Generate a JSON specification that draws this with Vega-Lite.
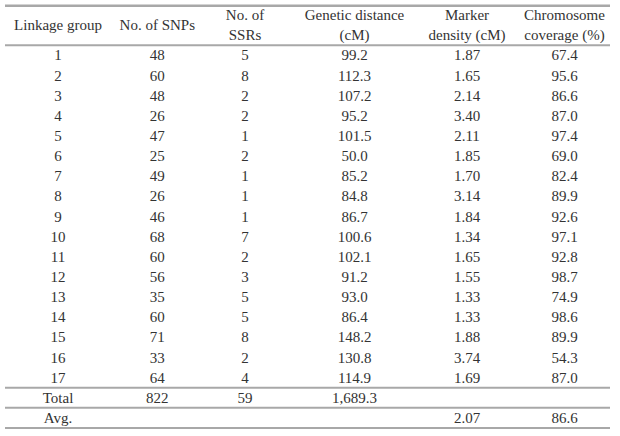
{
  "$schema": "https://vega.github.io/schema/vega-lite/v6.json",
  "width": 620,
  "height": 436,
  "autosize": {"type": "fit", "contains": "padding"},
  "padding": {"left": 3, "right": 8, "top": 4, "bottom": 7},
  "background": "white",
  "config": {
    "view": {"stroke": null},
    "text": {"font": "Liberation Serif", "fontSize": 15, "color": "#333333", "lineBreak": "\n", "lineHeight": 20, "baseline": "middle", "align": "center"}
  },
  "datasets": {
    "rows": [
      {"group": "1", "snps": "48", "ssrs": "5", "dist": "99.2", "density": "1.87", "coverage": "67.4"},
      {"group": "2", "snps": "60", "ssrs": "8", "dist": "112.3", "density": "1.65", "coverage": "95.6"},
      {"group": "3", "snps": "48", "ssrs": "2", "dist": "107.2", "density": "2.14", "coverage": "86.6"},
      {"group": "4", "snps": "26", "ssrs": "2", "dist": "95.2", "density": "3.40", "coverage": "87.0"},
      {"group": "5", "snps": "47", "ssrs": "1", "dist": "101.5", "density": "2.11", "coverage": "97.4"},
      {"group": "6", "snps": "25", "ssrs": "2", "dist": "50.0", "density": "1.85", "coverage": "69.0"},
      {"group": "7", "snps": "49", "ssrs": "1", "dist": "85.2", "density": "1.70", "coverage": "82.4"},
      {"group": "8", "snps": "26", "ssrs": "1", "dist": "84.8", "density": "3.14", "coverage": "89.9"},
      {"group": "9", "snps": "46", "ssrs": "1", "dist": "86.7", "density": "1.84", "coverage": "92.6"},
      {"group": "10", "snps": "68", "ssrs": "7", "dist": "100.6", "density": "1.34", "coverage": "97.1"},
      {"group": "11", "snps": "60", "ssrs": "2", "dist": "102.1", "density": "1.65", "coverage": "92.8"},
      {"group": "12", "snps": "56", "ssrs": "3", "dist": "91.2", "density": "1.55", "coverage": "98.7"},
      {"group": "13", "snps": "35", "ssrs": "5", "dist": "93.0", "density": "1.33", "coverage": "74.9"},
      {"group": "14", "snps": "60", "ssrs": "5", "dist": "86.4", "density": "1.33", "coverage": "98.6"},
      {"group": "15", "snps": "71", "ssrs": "8", "dist": "148.2", "density": "1.88", "coverage": "89.9"},
      {"group": "16", "snps": "33", "ssrs": "2", "dist": "130.8", "density": "3.74", "coverage": "54.3"},
      {"group": "17", "snps": "64", "ssrs": "4", "dist": "114.9", "density": "1.69", "coverage": "87.0"},
      {"group": "Total", "snps": "822", "ssrs": "59", "dist": "1,689.3", "density": "", "coverage": ""},
      {"group": "Avg.", "snps": "", "ssrs": "", "dist": "", "density": "2.07", "coverage": "86.6"}
    ],
    "heads": [
      {"group": "H1", "col": "group", "text": "Linkage group"},
      {"group": "H1", "col": "snps", "text": "No. of SNPs"},
      {"group": "H1", "col": "ssrs", "text": "No. of\nSSRs"},
      {"group": "H1", "col": "dist", "text": "Genetic distance\n(cM)"},
      {"group": "H1", "col": "density", "text": "Marker\ndensity (cM)"},
      {"group": "H1", "col": "coverage", "text": "Chromosome\ncoverage (%)"}
    ],
    "lines": [
      {"group": "1"},
      {"group": "Total"},
      {"group": "Avg."}
    ],
    "top": [
      {"group": "H1"}
    ],
    "bottom": [
      {"group": "Avg."}
    ]
  },
  "layer": [
    {
      "data": {"name": "top"},
      "mark": {"type": "rule", "color": "#a8a8a8", "strokeWidth": 2.5, "clip": false},
      "encoding": {
        "y": {"field": "group", "type": "nominal", "bandPosition": 0.04, "axis": null,
          "scale": {"type": "band", "domain": ["H1","H2","1","2","3","4","5","6","7","8","9","10","11","12","13","14","15","16","17","Total","Avg."], "paddingInner": 0, "paddingOuter": 0}}
      }
    },
    {
      "data": {"name": "lines"},
      "mark": {"type": "rule", "color": "#a8a8a8", "strokeWidth": 2},
      "encoding": {
        "y": {"field": "group", "type": "nominal", "bandPosition": 0, "axis": null,
          "scale": {"type": "band", "domain": ["H1","H2","1","2","3","4","5","6","7","8","9","10","11","12","13","14","15","16","17","Total","Avg."], "paddingInner": 0, "paddingOuter": 0}}
      }
    },
    {
      "data": {"name": "bottom"},
      "mark": {"type": "rule", "color": "#a8a8a8", "strokeWidth": 2},
      "encoding": {
        "y": {"field": "group", "type": "nominal", "bandPosition": 1, "axis": null,
          "scale": {"type": "band", "domain": ["H1","H2","1","2","3","4","5","6","7","8","9","10","11","12","13","14","15","16","17","Total","Avg."], "paddingInner": 0, "paddingOuter": 0}}
      }
    },
    {
      "data": {"name": "rows"},
      "mark": {"type": "text", "dx": 0},
      "encoding": {
        "x": {"datum": "group", "type": "nominal", "axis": null, "scale": {"type": "point", "domain": ["group","snps","ssrs","dist","density","coverage"], "range": [53, 559.5], "padding": 0}},
        "y": {"field": "group", "type": "nominal", "axis": null, "scale": {"type": "band", "domain": ["H1","H2","1","2","3","4","5","6","7","8","9","10","11","12","13","14","15","16","17","Total","Avg."], "paddingInner": 0, "paddingOuter": 0}},
        "text": {"field": "group"}
      }
    },
    {
      "data": {"name": "rows"},
      "mark": {"type": "text", "dx": -2},
      "encoding": {
        "x": {"datum": "snps", "type": "nominal", "axis": null, "scale": {"type": "point", "domain": ["group","snps","ssrs","dist","density","coverage"], "range": [53, 559.5], "padding": 0}},
        "y": {"field": "group", "type": "nominal", "axis": null, "scale": {"type": "band", "domain": ["H1","H2","1","2","3","4","5","6","7","8","9","10","11","12","13","14","15","16","17","Total","Avg."], "paddingInner": 0, "paddingOuter": 0}},
        "text": {"field": "snps"}
      }
    },
    {
      "data": {"name": "rows"},
      "mark": {"type": "text", "dx": -15.6},
      "encoding": {
        "x": {"datum": "ssrs", "type": "nominal", "axis": null, "scale": {"type": "point", "domain": ["group","snps","ssrs","dist","density","coverage"], "range": [53, 559.5], "padding": 0}},
        "y": {"field": "group", "type": "nominal", "axis": null, "scale": {"type": "band", "domain": ["H1","H2","1","2","3","4","5","6","7","8","9","10","11","12","13","14","15","16","17","Total","Avg."], "paddingInner": 0, "paddingOuter": 0}},
        "text": {"field": "ssrs"}
      }
    },
    {
      "data": {"name": "rows"},
      "mark": {"type": "text", "dx": -7.4},
      "encoding": {
        "x": {"datum": "dist", "type": "nominal", "axis": null, "scale": {"type": "point", "domain": ["group","snps","ssrs","dist","density","coverage"], "range": [53, 559.5], "padding": 0}},
        "y": {"field": "group", "type": "nominal", "axis": null, "scale": {"type": "band", "domain": ["H1","H2","1","2","3","4","5","6","7","8","9","10","11","12","13","14","15","16","17","Total","Avg."], "paddingInner": 0, "paddingOuter": 0}},
        "text": {"field": "dist"}
      }
    },
    {
      "data": {"name": "rows"},
      "mark": {"type": "text", "dx": 3.8},
      "encoding": {
        "x": {"datum": "density", "type": "nominal", "axis": null, "scale": {"type": "point", "domain": ["group","snps","ssrs","dist","density","coverage"], "range": [53, 559.5], "padding": 0}},
        "y": {"field": "group", "type": "nominal", "axis": null, "scale": {"type": "band", "domain": ["H1","H2","1","2","3","4","5","6","7","8","9","10","11","12","13","14","15","16","17","Total","Avg."], "paddingInner": 0, "paddingOuter": 0}},
        "text": {"field": "density"}
      }
    },
    {
      "data": {"name": "rows"},
      "mark": {"type": "text", "dx": 0},
      "encoding": {
        "x": {"datum": "coverage", "type": "nominal", "axis": null, "scale": {"type": "point", "domain": ["group","snps","ssrs","dist","density","coverage"], "range": [53, 559.5], "padding": 0}},
        "y": {"field": "group", "type": "nominal", "axis": null, "scale": {"type": "band", "domain": ["H1","H2","1","2","3","4","5","6","7","8","9","10","11","12","13","14","15","16","17","Total","Avg."], "paddingInner": 0, "paddingOuter": 0}},
        "text": {"field": "coverage"}
      }
    },
    {
      "data": {"name": "heads"},
      "transform": [{"filter": "datum.col === 'group'"}],
      "mark": {"type": "text", "dx": 0},
      "encoding": {
        "x": {"field": "col", "type": "nominal", "axis": null, "scale": {"type": "point", "domain": ["group","snps","ssrs","dist","density","coverage"], "range": [53, 559.5], "padding": 0}},
        "y": {"field": "group", "type": "nominal", "bandPosition": 1, "axis": null, "scale": {"type": "band", "domain": ["H1","H2","1","2","3","4","5","6","7","8","9","10","11","12","13","14","15","16","17","Total","Avg."], "paddingInner": 0, "paddingOuter": 0}},
        "text": {"field": "text"}
      }
    },
    {
      "data": {"name": "heads"},
      "transform": [{"filter": "datum.col === 'snps'"}],
      "mark": {"type": "text", "dx": -2},
      "encoding": {
        "x": {"field": "col", "type": "nominal", "axis": null, "scale": {"type": "point", "domain": ["group","snps","ssrs","dist","density","coverage"], "range": [53, 559.5], "padding": 0}},
        "y": {"field": "group", "type": "nominal", "bandPosition": 1, "axis": null, "scale": {"type": "band", "domain": ["H1","H2","1","2","3","4","5","6","7","8","9","10","11","12","13","14","15","16","17","Total","Avg."], "paddingInner": 0, "paddingOuter": 0}},
        "text": {"field": "text"}
      }
    },
    {
      "data": {"name": "heads"},
      "transform": [{"filter": "datum.col === 'ssrs'"}],
      "mark": {"type": "text", "dx": -15.6},
      "encoding": {
        "x": {"field": "col", "type": "nominal", "axis": null, "scale": {"type": "point", "domain": ["group","snps","ssrs","dist","density","coverage"], "range": [53, 559.5], "padding": 0}},
        "y": {"field": "group", "type": "nominal", "bandPosition": 0.5, "axis": null, "scale": {"type": "band", "domain": ["H1","H2","1","2","3","4","5","6","7","8","9","10","11","12","13","14","15","16","17","Total","Avg."], "paddingInner": 0, "paddingOuter": 0}},
        "text": {"field": "text"}
      }
    },
    {
      "data": {"name": "heads"},
      "transform": [{"filter": "datum.col === 'dist'"}],
      "mark": {"type": "text", "dx": -7.4},
      "encoding": {
        "x": {"field": "col", "type": "nominal", "axis": null, "scale": {"type": "point", "domain": ["group","snps","ssrs","dist","density","coverage"], "range": [53, 559.5], "padding": 0}},
        "y": {"field": "group", "type": "nominal", "bandPosition": 0.5, "axis": null, "scale": {"type": "band", "domain": ["H1","H2","1","2","3","4","5","6","7","8","9","10","11","12","13","14","15","16","17","Total","Avg."], "paddingInner": 0, "paddingOuter": 0}},
        "text": {"field": "text"}
      }
    },
    {
      "data": {"name": "heads"},
      "transform": [{"filter": "datum.col === 'density'"}],
      "mark": {"type": "text", "dx": 3.8},
      "encoding": {
        "x": {"field": "col", "type": "nominal", "axis": null, "scale": {"type": "point", "domain": ["group","snps","ssrs","dist","density","coverage"], "range": [53, 559.5], "padding": 0}},
        "y": {"field": "group", "type": "nominal", "bandPosition": 0.5, "axis": null, "scale": {"type": "band", "domain": ["H1","H2","1","2","3","4","5","6","7","8","9","10","11","12","13","14","15","16","17","Total","Avg."], "paddingInner": 0, "paddingOuter": 0}},
        "text": {"field": "text"}
      }
    },
    {
      "data": {"name": "heads"},
      "transform": [{"filter": "datum.col === 'coverage'"}],
      "mark": {"type": "text", "dx": 0},
      "encoding": {
        "x": {"field": "col", "type": "nominal", "axis": null, "scale": {"type": "point", "domain": ["group","snps","ssrs","dist","density","coverage"], "range": [53, 559.5], "padding": 0}},
        "y": {"field": "group", "type": "nominal", "bandPosition": 0.5, "axis": null, "scale": {"type": "band", "domain": ["H1","H2","1","2","3","4","5","6","7","8","9","10","11","12","13","14","15","16","17","Total","Avg."], "paddingInner": 0, "paddingOuter": 0}},
        "text": {"field": "text"}
      }
    }
  ]
}
